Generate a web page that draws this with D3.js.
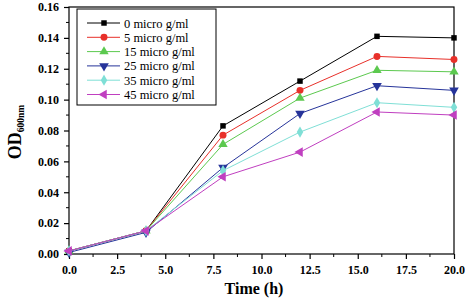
<!DOCTYPE html>
<html><head><meta charset="utf-8">
<script src="https://cdn.jsdelivr.net/npm/d3@7/dist/d3.min.js"></script>
<style>body{margin:0;background:#fff}svg{display:block}svg text{font-family:"Liberation Serif","Times New Roman",Times,serif}</style>
</head><body><svg id="c" width="465" height="304"></svg>
<script>
const times = [0, 4, 8, 12, 16, 20];
const seriesNames = ["0 micro g/ml","5 micro g/ml","15 micro g/ml","25 micro g/ml","35 micro g/ml","45 micro g/ml"];
const s0  = [0.002, 0.015, 0.083, 0.112, 0.141, 0.140];
const s5  = [0.002, 0.015, 0.077, 0.106, 0.128, 0.126];
const s15 = [0.002, 0.015, 0.071, 0.101, 0.119, 0.118];
const s25 = [0.001, 0.014, 0.056, 0.091, 0.109, 0.106];
const s35 = [0.002, 0.015, 0.054, 0.079, 0.098, 0.095];
const s45 = [0.002, 0.015, 0.050, 0.066, 0.092, 0.090];
const xTicks = [0, 2.5, 5, 7.5, 10, 12.5, 15, 17.5, 20];
const yTicks = [0, 0.02, 0.04, 0.06, 0.08, 0.10, 0.12, 0.14, 0.16];
const colors = ["#000000","#e8302a","#5cc94f","#26349a","#7fdfd6","#c03fc0"];
const symbols = ["square","circle","triangle","triangleDown","diamond","triangleLeft"];
const allSeries = [s0,s5,s15,s25,s35,s45];

const svg = d3.select("#c");
const L=69, R=454, T=7, B=254;
const x = d3.scaleLinear().domain([0,20]).range([L,R]);
const y = d3.scaleLinear().domain([0,0.16]).range([B,T]);

// frame
svg.append("rect").attr("x",L).attr("y",T).attr("width",R-L).attr("height",B-T)
  .attr("fill","none").attr("stroke","#000").attr("stroke-width",1.2);

// axes
const xAxis = svg.append("g").attr("transform",`translate(0,${B})`)
  .call(d3.axisBottom(x).tickValues(xTicks).tickFormat(d3.format(".1f")).tickSize(5).tickPadding(6));
const yAxis = svg.append("g").attr("transform",`translate(${L},0)`)
  .call(d3.axisLeft(y).tickValues(yTicks).tickFormat(d3.format(".2f")).tickSize(5).tickPadding(5));
[xAxis,yAxis].forEach(g=>{
  g.attr("font-family",null);
  g.select(".domain").remove();
  g.selectAll("line").attr("stroke","#000").attr("stroke-width",1.2);
  g.selectAll("text").attr("font-weight","bold").attr("font-size",12).attr("fill","#000");
});
// minor ticks
const xMinor = d3.range(0,8).map(i=>1.25+2.5*i);
svg.append("g").selectAll("line").data(xMinor).join("line")
  .attr("x1",d=>x(d)).attr("x2",d=>x(d)).attr("y1",B).attr("y2",B+3).attr("stroke","#000").attr("stroke-width",1);
const yMinor = d3.range(0,8).map(i=>0.01+0.02*i);
svg.append("g").selectAll("line").data(yMinor).join("line")
  .attr("x1",L-3).attr("x2",L).attr("y1",d=>y(d)).attr("y2",d=>y(d)).attr("stroke","#000").attr("stroke-width",1);

// axis titles
svg.append("text").attr("x",254).attr("y",294).attr("text-anchor","middle")
  .attr("font-weight","bold").attr("font-size",16).text("Time (h)");
const yt = svg.append("text").attr("transform","translate(21,132) rotate(-90)").attr("text-anchor","middle")
  .attr("font-weight","bold").attr("font-size",18);
yt.append("tspan").text("OD");
yt.append("tspan").attr("font-size",9.5).attr("dy",3).text("600nm");

function sym(i){
  const types = {square:d3.symbolSquare,circle:d3.symbolCircle,triangle:d3.symbolTriangle,diamond:d3.symbolDiamond};
  const s = symbols[i];
  if (s==="triangleDown") return {path:d3.symbol(d3.symbolTriangle,40)(), rot:180};
  if (s==="triangleLeft") return {path:d3.symbol(d3.symbolTriangle,40)(), rot:-90};
  const size = s==="diamond"?36:(s==="square"?30:38);
  return {path:d3.symbol(types[s],size)(), rot:0};
}

const line = d3.line().x((d,i)=>x(times[i])).y(d=>y(d));
allSeries.forEach((vals,i)=>{
  svg.append("path").datum(vals).attr("d",line).attr("fill","none").attr("stroke",colors[i]).attr("stroke-width",1);
  const sm = sym(i);
  svg.append("g").selectAll("path").data(vals).join("path")
    .attr("d",sm.path).attr("fill",colors[i])
    .attr("transform",(d,j)=>`translate(${x(times[j])},${y(d)}) rotate(${sm.rot})`);
});

// legend
const lg = svg.append("g");
lg.append("rect").attr("x",77).attr("y",9).attr("width",139).attr("height",96)
  .attr("fill","#fff").attr("stroke","#000").attr("stroke-width",1);
seriesNames.forEach((n,i)=>{
  const yy = 23 + i*14.3;
  lg.append("line").attr("x1",87).attr("x2",120).attr("y1",yy).attr("y2",yy).attr("stroke",colors[i]).attr("stroke-width",1);
  const sm = sym(i);
  lg.append("path").attr("d",sm.path).attr("fill",colors[i]).attr("transform",`translate(104,${yy}) rotate(${sm.rot})`);
  lg.append("text").attr("x",124).attr("y",yy+4.5).attr("font-size",12.5).text(n);
});
</script></body></html>
